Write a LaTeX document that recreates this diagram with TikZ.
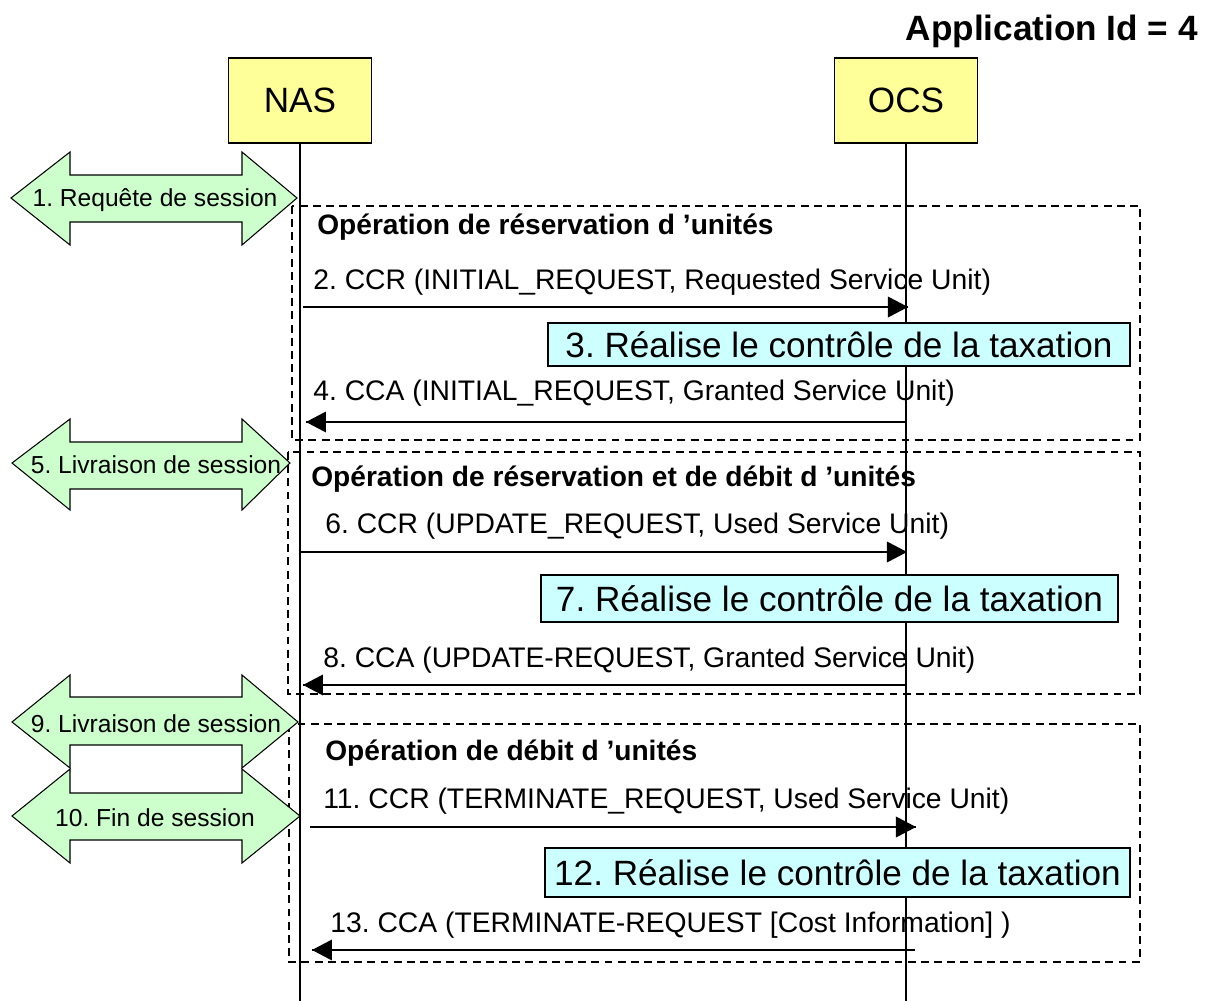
\documentclass[tikz,border=0pt]{standalone}
\usepackage{fontspec}
\setmainfont{Liberation Sans}
\definecolor{boxyellow}{HTML}{FFFF99}
\definecolor{boxcyan}{HTML}{CCFFFF}
\definecolor{boxgreen}{HTML}{CCFFCC}
\frenchspacing
\begin{document}
\begin{tikzpicture}[scale=0.2,
	entity/.style={draw=black, fill=boxyellow, line width=0.8pt, minimum width=2.86cm, minimum height=1.7cm, font=\fontsize{20}{24}\selectfont},
	charge/.style={draw=black, fill=boxcyan, line width=0.8pt, font=\fontsize{20}{24}\selectfont},
	msgtext/.style={anchor=west, font=\fontsize{16.1}{19}\selectfont},
	optitle/.style={anchor=west, font=\fontsize{16}{19}\selectfont\bfseries},
	opframe/.style={black, line width=1.1pt, dash pattern=on 4.5pt off 3pt},
	msg/.style={black, line width=1.1pt},
	sessarrow/.style={draw=black, fill=boxgreen, line width=0.6pt},
	sesstext/.style={font=\fontsize{14}{17}\selectfont}]
		\tikzstyle{every node}+=[inner sep=0pt]
		\useasboundingbox (0,0) rectangle (120.9,-100.1);
		% title
		\node (appid) [anchor=east, font=\fontsize{20}{24}\selectfont\bfseries] at (119.8,-3.1) {Application Id = 4};
		% entities and lifelines
		\node (nas) [entity] at (30.0,-10.05) {NAS};
		\node (ocs) [entity] at (90.6,-10.05) {OCS};
		\coordinate (nasend) at (30.0,-100.1);
		\coordinate (ocsend) at (90.6,-100.1);
		% operation frames
		\draw [opframe] (29.2,-20.6) rectangle (114.0,-44.0);
		\draw [opframe] (28.8,-45.2) rectangle (114.0,-69.4);
		\draw [opframe] (28.9,-72.4) rectangle (114.0,-96.2);
		\draw [black, line width=0.7pt] (nas) -- (nasend);
		\draw [black, line width=0.7pt] (ocs) -- (ocsend);
		\node (op1) [optitle] at (31.7,-22.7) {Opération de réservation d 'unités};
		\node (op2) [optitle] at (31.1,-47.9) {Opération de réservation et de débit d 'unités};
		\node (op3) [optitle] at (32.5,-75.3) {Opération de débit d 'unités};
		% session arrows
		\filldraw [sessarrow] (1.1,-19.8) -- (7.0,-15.2) -- (7.0,-17.5) -- (24.2,-17.5) -- (24.2,-15.2) -- (29.7,-19.8) -- (24.2,-24.5) -- (24.2,-22.2) -- (7.0,-22.2) -- (7.0,-24.5) -- cycle;
		\node (sess1) [sesstext] at (15.5,-20.0) {1. Requête de session};
		\filldraw [sessarrow] (1.2,-46.3) -- (7.0,-41.9) -- (7.0,-44.2) -- (24.2,-44.2) -- (24.2,-41.9) -- (29.0,-46.3) -- (24.2,-51.0) -- (24.2,-48.9) -- (7.0,-48.9) -- (7.0,-51.0) -- cycle;
		\node (sess5) [sesstext] at (15.6,-46.5) {5. Livraison de session};
		\filldraw [sessarrow] (1.2,-72.2) -- (7.0,-67.5) -- (7.0,-69.7) -- (24.2,-69.7) -- (24.2,-67.5) -- (29.8,-72.2) -- (24.2,-76.8) -- (24.2,-74.5) -- (7.0,-74.5) -- (7.0,-76.8) -- cycle;
		\node (sess9) [sesstext] at (15.6,-72.4) {9. Livraison de session};
		\filldraw [sessarrow] (1.2,-81.6) -- (7.0,-76.9) -- (7.0,-79.3) -- (24.2,-79.3) -- (24.2,-76.9) -- (30.0,-81.6) -- (24.2,-86.3) -- (24.2,-84.0) -- (7.0,-84.0) -- (7.0,-86.3) -- cycle;
		\node (sess10) [sesstext] at (15.5,-81.8) {10. Fin de session};
		% reservation
		\node (m2) [msgtext] at (31.3,-28.2) {2. CCR (INITIAL\_REQUEST, Requested Service Unit)};
		\coordinate (m2s) at (30.3,-30.7);
		\coordinate (m2e) at (90.8,-30.7);
		\draw [msg] (m2s) -- (m2e);
		\fill [black] (m2e) -- ++(-2.0,1.05) -- ++(0,-2.1) -- cycle;
		\node (ctl3) [charge, minimum width=11.64cm, minimum height=0.86cm] at (83.9,-34.45) {3. Réalise le contrôle de la taxation};
		\node (m4) [msgtext] at (31.3,-39.3) {4. CCA (INITIAL\_REQUEST, Granted Service Unit)};
		\coordinate (m4s) at (90.7,-42.2);
		\coordinate (m4e) at (30.6,-42.2);
		\draw [msg] (m4s) -- (m4e);
		\fill [black] (m4e) -- ++(2.0,1.05) -- ++(0,-2.1) -- cycle;
		% reservation and debit
		\node (m6) [msgtext] at (32.5,-52.6) {6. CCR (UPDATE\_REQUEST, Used Service Unit)};
		\coordinate (m6s) at (30.0,-55.2);
		\coordinate (m6e) at (90.7,-55.2);
		\draw [msg] (m6s) -- (m6e);
		\fill [black] (m6e) -- ++(-2.0,1.05) -- ++(0,-2.1) -- cycle;
		\node (ctl7) [charge, minimum width=11.54cm, minimum height=0.94cm] at (82.95,-59.85) {7. Réalise le contrôle de la taxation};
		\node (m8) [msgtext] at (32.3,-66.0) {8. CCA (UPDATE-REQUEST, Granted Service Unit)};
		\coordinate (m8s) at (90.5,-68.5);
		\coordinate (m8e) at (30.3,-68.5);
		\draw [msg] (m8s) -- (m8e);
		\fill [black] (m8e) -- ++(2.0,1.05) -- ++(0,-2.1) -- cycle;
		% debit
		\node (m11) [msgtext] at (32.3,-80.1) {11. CCR (TERMINATE\_REQUEST, Used Service Unit)};
		\coordinate (m11s) at (31.0,-82.7);
		\coordinate (m11e) at (91.6,-82.7);
		\draw [msg] (m11s) -- (m11e);
		\fill [black] (m11e) -- ++(-2.0,1.05) -- ++(0,-2.1) -- cycle;
		\node (ctl12) [charge, minimum width=11.7cm, minimum height=0.98cm] at (83.75,-87.25) {12. Réalise le contrôle de la taxation};
		\node (m13) [msgtext] at (33.0,-92.5) {13. CCA (TERMINATE-REQUEST [Cost Information] )};
		\coordinate (m13s) at (91.5,-95.0);
		\coordinate (m13e) at (31.2,-95.0);
		\draw [msg] (m13s) -- (m13e);
		\fill [black] (m13e) -- ++(2.0,1.05) -- ++(0,-2.1) -- cycle;
	\end{tikzpicture}
\end{document}
